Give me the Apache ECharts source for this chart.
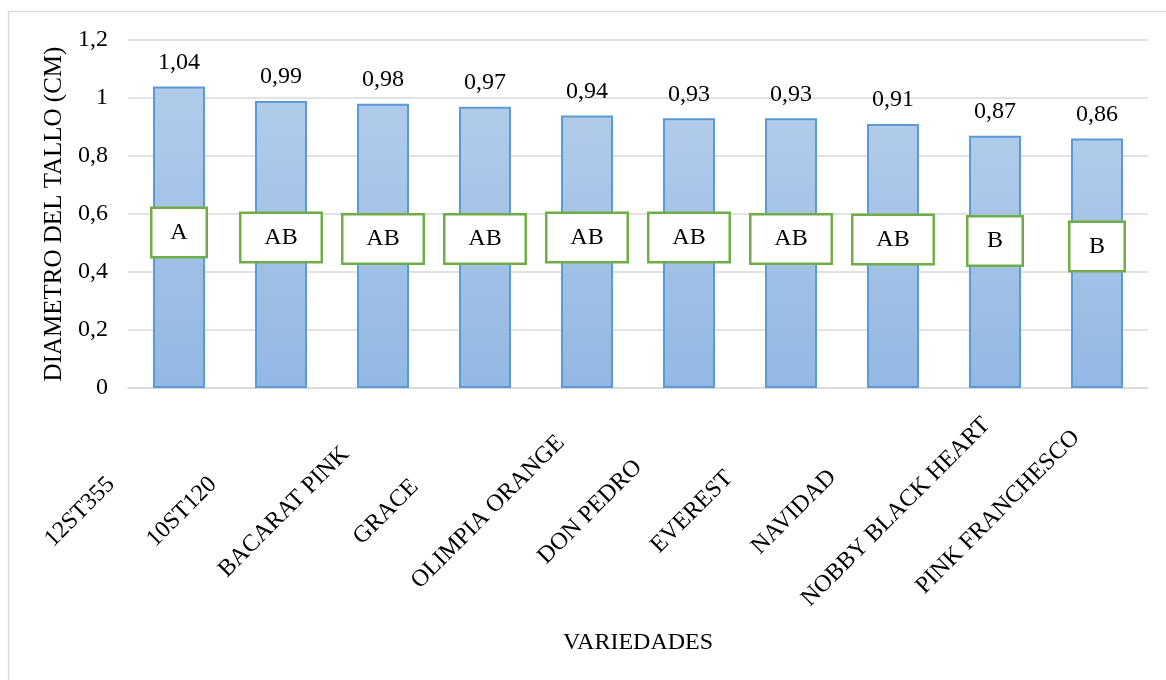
<!DOCTYPE html>
<html>
<head>
<meta charset="utf-8">
<script src="https://cdn.jsdelivr.net/npm/echarts@6/dist/echarts.min.js"></script>
<style>
html,body{margin:0;padding:0;background:#fff;}
#chart{width:1166px;height:680px;}
</style>
</head>
<body>
<div id="chart"></div>
<script>
var categories = ['12ST355','10ST120','BACARAT PINK','GRACE','OLIMPIA ORANGE','DON PEDRO','EVEREST','NAVIDAD','NOBBY BLACK HEART','PINK FRANCHESCO'];
var diametro = [1.04, 0.99, 0.98, 0.97, 0.94, 0.93, 0.93, 0.91, 0.87, 0.86];
var letras = ['A','AB','AB','AB','AB','AB','AB','AB','B','B'];
var letrasPos = [0.536, 0.519, 0.514, 0.514, 0.519, 0.519, 0.514, 0.512, 0.507, 0.488];
var yTicks = [0, 0.2, 0.4, 0.6, 0.8, 1, 1.2];

var FONT = '"Liberation Serif", "Times New Roman", serif';
var chart = echarts.init(document.getElementById('chart'), null, {renderer:'canvas'});

function fmt(v){ return String(v).replace('.', ','); }

var letterData = letrasPos.map(function(v, i){
  var w = letras[i].length > 1 ? 79 : 53;
  return {value: v, label: {width: w}};
});

chart.setOption({
  animation: false,
  backgroundColor: '#fff',
  graphic: [
    {type:'line', shape:{x1:8.5, y1:11.5, x2:1166, y2:11.5}, style:{stroke:'#d9d9d9', lineWidth:1.5}, silent:true},
    {type:'line', shape:{x1:8.5, y1:11.5, x2:8.5, y2:680}, style:{stroke:'#d9d9d9', lineWidth:1.5}, silent:true}
  ],
  grid: {left:128, right:18, top:40, bottom:292},
  xAxis: {
    type: 'category',
    data: categories,
    axisLine: {show:true, lineStyle:{color:'#d9d9d9', width:1.5}},
    axisTick: {show:false},
    axisLabel: {
      interval: 0,
      rotate: 45,
      align: 'center',
      verticalAlign: 'middle',
      margin: 25,
      padding: [0, 280, 0, 0],
      color: '#000',
      fontFamily: FONT,
      fontSize: 24
    },
    name: 'VARIEDADES',
    nameLocation: 'middle',
    nameGap: 243,
    nameTextStyle: {color:'#000', fontFamily: FONT, fontSize: 24}
  },
  yAxis: {
    type: 'value',
    min: 0, max: 1.2, interval: 0.2,
    axisLine: {show:false},
    axisTick: {show:false},
    splitLine: {lineStyle:{color:'#d9d9d9', width:1.5}},
    axisLabel: {
      margin: 20,
      color: '#000',
      fontFamily: FONT,
      fontSize: 24,
      formatter: function(v){ return fmt(Math.round(v*10)/10); }
    },
    name: 'DIAMETRO DEL TALLO (CM)',
    nameLocation: 'middle',
    nameGap: 58,
    nameRotate: 90,
    nameTextStyle: {color:'#000', fontFamily: FONT, fontSize: 25}
  },
  series: [
    {
      type: 'bar',
      data: diametro,
      barWidth: 52,
      itemStyle: {
        color: new echarts.graphic.LinearGradient(0,0,0,1,[
          {offset:0, color:'#b1cbea'},
          {offset:1, color:'#93b8e3'}
        ]),
        borderColor: '#5b9bd5',
        borderWidth: 2
      },
      label: {
        show: true,
        position: 'top',
        distance: 12,
        color: '#000',
        fontFamily: FONT,
        fontSize: 24,
        formatter: function(p){ return fmt(p.value); }
      },
      z: 2
    },
    {
      type: 'scatter',
      data: letterData,
      symbolSize: 0,
      silent: true,
      itemStyle: {opacity: 1},
      label: {
        show: true,
        position: 'inside',
        align: 'center',
        verticalAlign: 'middle',
        color: '#000',
        fontFamily: FONT,
        fontSize: 24,
        backgroundColor: '#fff',
        borderColor: '#70ad47',
        borderWidth: 2.5,
        height: 47,
        lineHeight: 47,
        formatter: function(p){ return letras[p.dataIndex]; }
      },
      z: 5
    }
  ]
});
</script>
</body>
</html>
